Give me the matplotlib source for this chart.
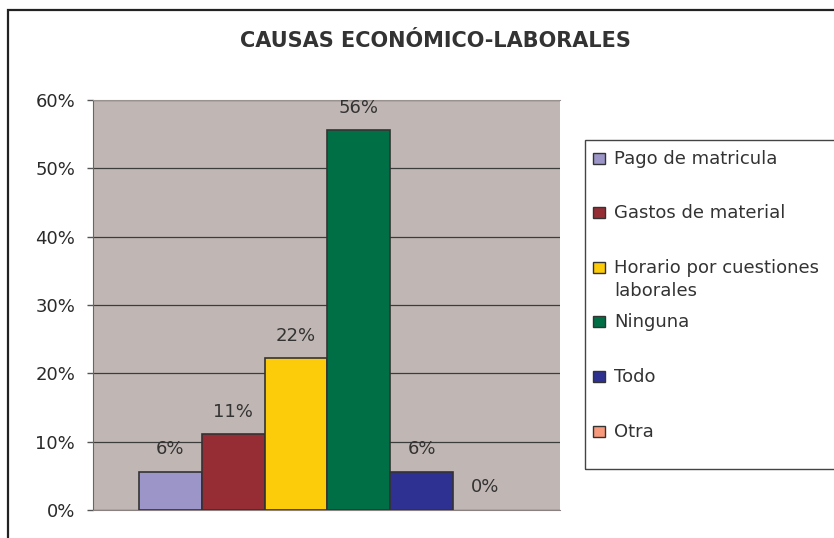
import matplotlib
matplotlib.use("Agg")
import matplotlib.pyplot as plt
from matplotlib.patches import Rectangle

categories = ["Pago de matricula", "Gastos de material",
              "Horario por cuestiones\nlaborales", "Ninguna", "Todo", "Otra"]
values = [5.56, 11.11, 22.22, 55.56, 5.56, 0.0]
labels = ["6%", "11%", "22%", "56%", "6%", "0%"]
colors = ["#9C96C8", "#962D35", "#FCCB0A", "#006F46", "#2E3192", "#F7997A"]
yticks = [0, 10, 20, 30, 40, 50, 60]
title = "CAUSAS ECONÓMICO-LABORALES"

plt.rcParams['font.family'] = ['DejaVu Sans']

W, H = 834, 538
fig = plt.figure(figsize=(W / 100, H / 100), dpi=100)
fig.patch.set_facecolor("white")


def fx(px):
    return px / W


def fy(py):
    return 1 - py / H


# outer chart border (right/bottom cut off)
fig.add_artist(Rectangle((fx(8), -0.1), 2, fy(10) + 0.1, transform=fig.transFigure,
                         fill=False, edgecolor="#222222", linewidth=1.6))

ax = fig.add_axes([fx(93), fy(510), (560 - 93) / W, (510 - 100) / H])
ax.set_facecolor("#C0B7B4")
xs = list(range(len(values)))
lws = [1.2 if v > 0 else 0 for v in values]
ax.bar(xs, values, width=1.0, color=colors, edgecolor="#333333", linewidth=lws, zorder=3)
for x, v, lab in zip(xs, values, labels):
    ax.text(x, v + 3.3, lab, ha="center", va="center", fontsize=13, color="#333333", zorder=4)

ax.set_ylim(0, 60)
ax.set_xlim(-0.5 - 0.73, 5.5 + 0.70)
ax.set_yticks(yticks)
ax.set_yticklabels([f"{t}%" for t in yticks], fontsize=13, color="#2A2A2A")
ax.set_xticks([])
ax.grid(axis="y", color="#3C3C3C", linewidth=0.9, zorder=1)
ax.tick_params(axis="y", length=4.3, width=1.0, color="#555555", pad=8.6)
ax.spines["right"].set_visible(False)
ax.spines["top"].set_color("#9A9290")
ax.spines["left"].set_color("#666666")
ax.spines["bottom"].set_color("#8A8280")

fig.text(fx(435), fy(47), title, ha="center", va="baseline", fontsize=15,
         fontweight="bold", color="#333333")

# legend (box extends past the right edge, as in the reference)
fig.add_artist(Rectangle((fx(585), fy(469)), 1.0, (469 - 140) / H, transform=fig.transFigure,
                         fill=False, edgecolor="#444444", linewidth=1.0))
baselines = [164, 218, 273, 327, 382, 437]
for lab, col, b in zip(categories, colors, baselines):
    fig.add_artist(Rectangle((fx(593), fy(b)), 12 / W, 11 / H, transform=fig.transFigure,
                             facecolor=col, edgecolor="#333333", linewidth=1.0))
    for i, line in enumerate(lab.split("\n")):
        fig.text(fx(614), fy(b + 23 * i), line, ha="left", va="baseline", fontsize=13,
                 color="#333333")

fig.savefig("out.png", dpi=100)
